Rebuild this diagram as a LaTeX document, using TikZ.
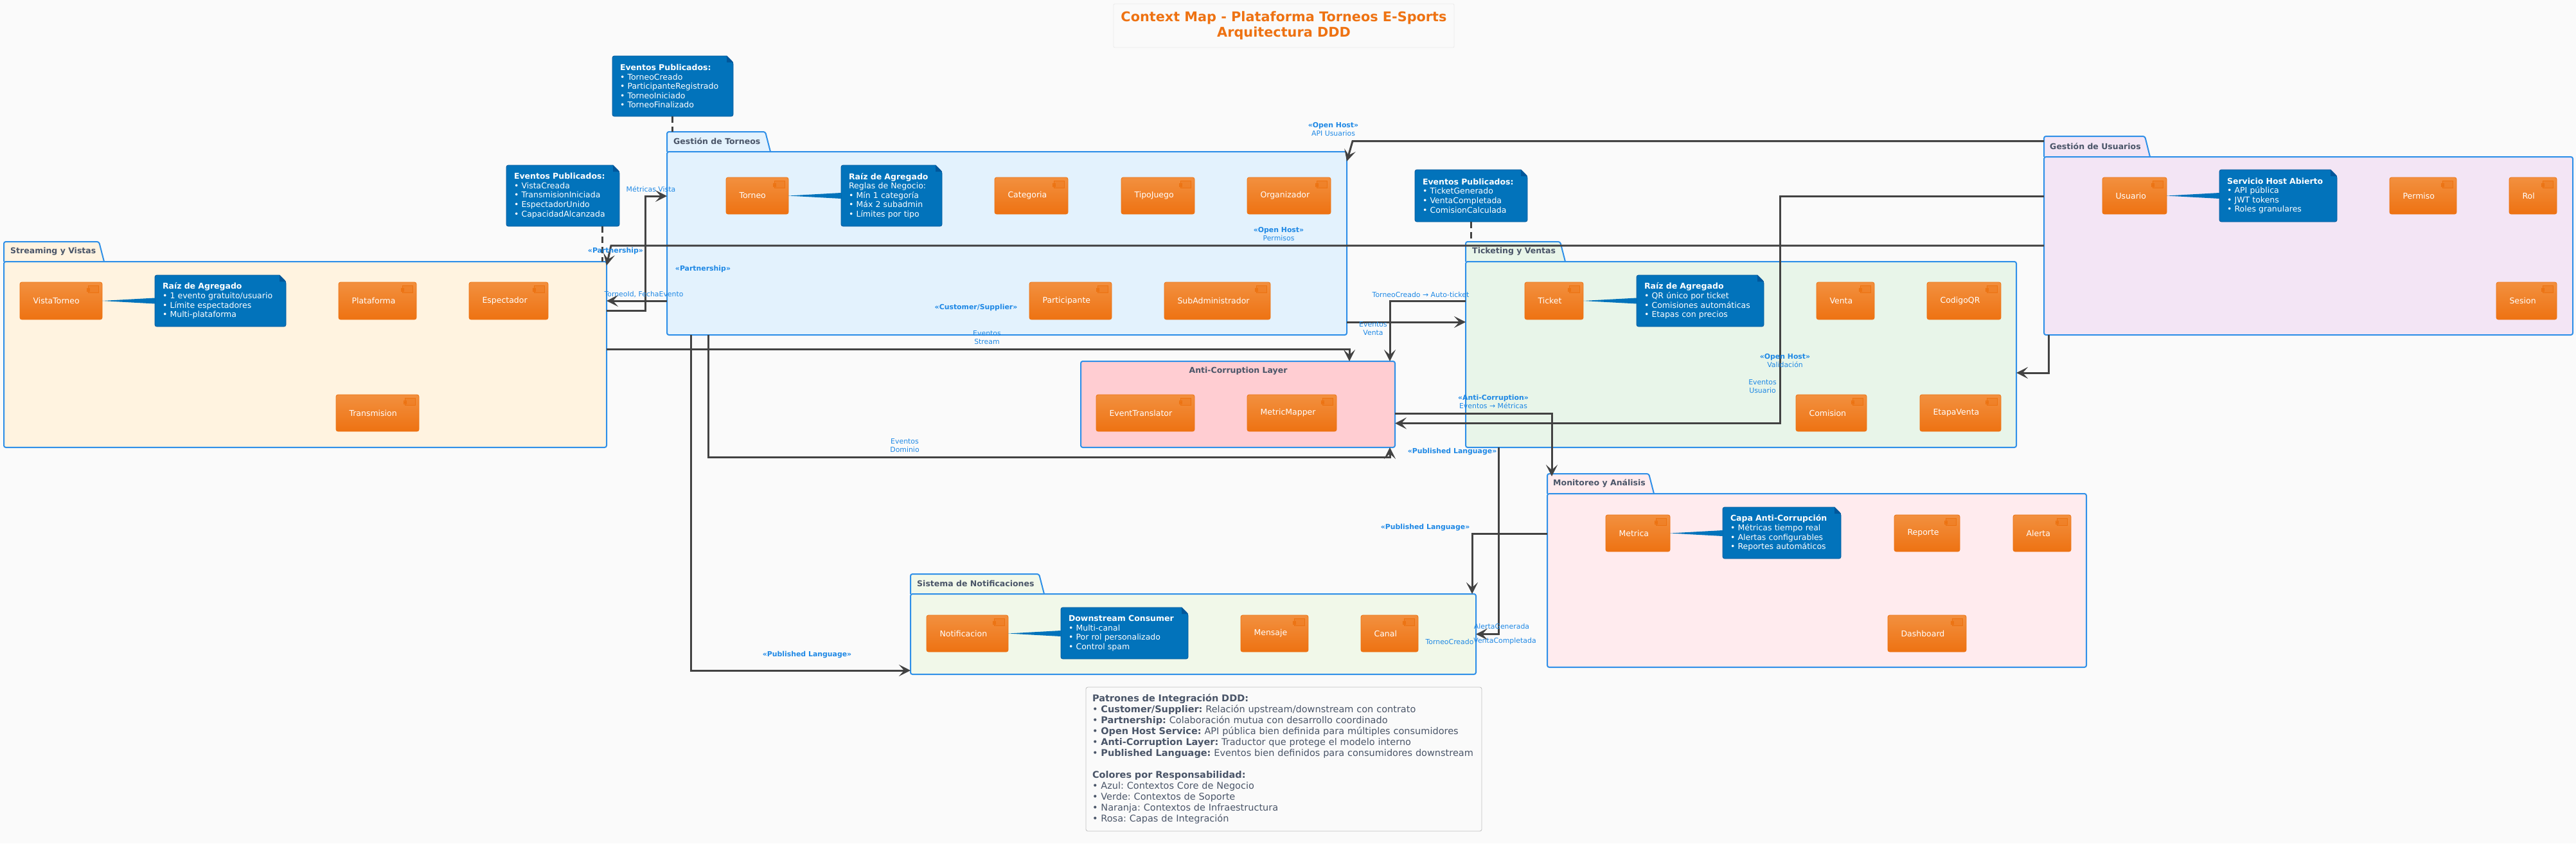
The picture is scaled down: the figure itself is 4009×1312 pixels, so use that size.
\documentclass[tikz,border=0pt]{standalone}
\usepackage{fontspec}
\setmainfont{DejaVu Sans}
\usetikzlibrary{arrows.meta,calc,fit}
\definecolor{pagebg}{HTML}{FAFAFA}
\definecolor{pkgblue}{HTML}{2E8FE8}
\definecolor{lblblue}{HTML}{1E88E5}
\definecolor{notefill}{HTML}{0273BB}
\definecolor{notedark}{HTML}{01579B}
\definecolor{compTop}{HTML}{F2903F}
\definecolor{compBot}{HTML}{EE7212}
\definecolor{compEdge}{HTML}{EC7211}
\definecolor{slatetxt}{HTML}{4A5568}
\definecolor{linegrey}{HTML}{424242}
\definecolor{fStream}{HTML}{FFF3E0}
\definecolor{fTorneo}{HTML}{E3F2FD}
\definecolor{fTicket}{HTML}{E8F5E9}
\definecolor{fUsuario}{HTML}{F3E5F5}
\definecolor{fAcl}{HTML}{FFCDD2}
\definecolor{fNotif}{HTML}{F1F8E9}
\definecolor{fMonitor}{HTML}{FFEBEE}
\frenchspacing
\tikzset{
  pkgline/.style={draw=pkgblue,line width=2pt,rounded corners=3pt},
  pkgbody/.style={pkgline,fit={#1},inner sep=0pt,outer sep=0pt},
  pkgtitle/.style={anchor=west,inner sep=0pt,text=slatetxt,font=\fontsize{12.5}{14.6}\selectfont\bfseries},
  compbox/.style={rectangle,draw=compEdge,line width=.8pt,rounded corners=3pt,top color=compTop,bottom color=compBot,
     inner xsep=20.5pt,inner ysep=0pt,outer sep=0pt,align=left,text=white,font=\fontsize{12.5}{14.6}\selectfont},
  compicon/.style={draw=compEdge,line width=.8pt,fill=compEdge,fill opacity=.35},
  notetext/.style={rectangle,inner xsep=12pt,inner ysep=0pt,outer sep=0pt,align=left,text=white,font=\fontsize{12.5}{14.6}\selectfont},
  notebody/.style={fill=notefill,draw=notedark,line width=.8pt},
  wedge/.style={fill=notefill},
  conn/.style={draw=linegrey,line width=3pt,line join=miter,-{Stealth[length=18pt,width=18pt,inset=8pt]}},
  noteconn/.style={draw=linegrey,line width=3pt,dash pattern=on 10pt off 6pt},
  lbl/.style={inner sep=0pt,align=center,text=lblblue,font=\fontsize{10.9}{12.4}\selectfont},
}
\newcommand{\comp}[6]{%
  \pgfmathsetmacro\mycw{#4-#2}\pgfmathsetmacro\mych{#5-#3}\pgfmathsetmacro\myctw{#4-#2-41}%
  \pgfmathsetmacro\mycx{(#2+#4)/2}\pgfmathsetmacro\mycy{(#3+#5)/2}%
  \node[compbox,minimum width=\mycw pt,minimum height=\mych pt,text width=\myctw pt] (#1) at (\mycx,\mycy) {\raisebox{-5pt}{#6}};
  \draw[compicon] ($(#1.north east)+(-22,5)$) rectangle ++(16,11.5);
  \draw[compicon] ($(#1.north east)+(-24,9)$) rectangle ++(4,2);
  \draw[compicon] ($(#1.north east)+(-24,12.5)$) rectangle ++(4,2);
}
\newcommand{\notebox}[6]{%
  \pgfmathsetmacro\mynw{#4-#2}\pgfmathsetmacro\mynh{#5-#3}\pgfmathsetmacro\myntw{#4-#2-24}%
  \pgfmathsetmacro\mynx{(#2+#4)/2}\pgfmathsetmacro\myny{(#3+#5)/2}\pgfmathsetmacro\mynf{#4-10}\pgfmathsetmacro\mynd{#3+10}%
  \draw[notebody,rounded corners=3pt] (\mynf,#3) -- (#2,#3) -- (#2,#5) -- (#4,#5) -- (#4,\mynd) [sharp corners] -- (\mynf,#3) -- cycle;
  \fill[notedark] (\mynf,#3) -- (#4,\mynd) -- (\mynf,\mynd) -- cycle;
  \node[notetext,minimum width=\mynw pt,minimum height=\mynh pt,text width=\myntw pt] (#1) at (\mynx,\myny) {#6};
}
\newcommand{\wedgeto}[2]{%
  \fill[wedge] (#1.east) -- ($(#2.west |- #1.east)+(0,-4.5)$) -- ($(#2.west |- #1.east)+(0,4.5)$) -- cycle;
}
\begin{document}
\begin{tikzpicture}[x=1pt,y=-1pt]
\useasboundingbox (0,0) rectangle (4009,1312);
\fill[pagebg] (0,0) rectangle (4009,1312);

% title
\node[draw=black!8,line width=.8pt,rounded corners=2pt,fill=pagebg,minimum width=530pt,minimum height=68pt,inner sep=0pt,align=center,
      text=compBot,font=\fontsize{20.8}{24}\selectfont\bfseries] (title) at (1998,40)
  {Context Map - Plataforma Torneos E-Sports\\Arquitectura DDD};

% packages
\draw[pkgline,fill=fStream] (6,407) -- (6,376) -- (154,376) -- (162,407);
\node[pkgbody={(6,407)(944,696)},fill=fStream] (streaming) {};
\node[pkgtitle] (streamingT) at (16,391) {Streaming y Vistas};

\draw[pkgline,fill=fTorneo] (1038,236) -- (1038,205) -- (1191,205) -- (1199,236);
\node[pkgbody={(1038,236)(2096,521)},fill=fTorneo] (torneos) {};
\node[pkgtitle] (torneosT) at (1048,220) {Gestión de Torneos};

\draw[pkgline,fill=fTicket] (2281,407) -- (2281,376) -- (2428,376) -- (2436,407);
\node[pkgbody={(2281,407)(3138,696)},fill=fTicket] (ticketing) {};
\node[pkgtitle] (ticketingT) at (2291,391) {Ticketing y Ventas};

\draw[pkgline,fill=fUsuario] (3181,244) -- (3181,212) -- (3338,212) -- (3346,244);
\node[pkgbody={(3181,244)(4004,521)},fill=fUsuario] (usuarios) {};
\node[pkgtitle] (usuariosT) at (3190,228) {Gestión de Usuarios};

\node[pkgbody={(1682,562)(2171,696)},fill=fAcl] (acl) {};
\node[pkgtitle,anchor=center] (aclT) at (1927,577) {Anti-Corruption Layer};

\draw[pkgline,fill=fMonitor] (2408,768) -- (2408,737) -- (2566,737) -- (2574,768);
\node[pkgbody={(2408,768)(3247,1038)},fill=fMonitor] (monitoreo) {};
\node[pkgtitle] (monitoreoT) at (2417,752) {Monitoreo y Análisis};

\draw[pkgline,fill=fNotif] (1417,924) -- (1417,893) -- (1617,893) -- (1625,924);
\node[pkgbody={(1417,924)(2297,1049)},fill=fNotif] (notif) {};
\node[pkgtitle] (notifT) at (1427,908) {Sistema de Notificaciones};

% notes
\notebox{nEvTorneos}{953}{87}{1141}{181}{\textbf{Eventos Publicados:}\\• TorneoCreado\\• ParticipanteRegistrado\\• TorneoIniciado\\• TorneoFinalizado}
\notebox{nEvStream}{788}{257}{964}{352}{\textbf{Eventos Publicados:}\\• VistaCreada\\• TransmisionIniciada\\• EspectadorUnido\\• CapacidadAlcanzada}
\notebox{nEvTicket}{2202}{264}{2377}{345}{\textbf{Eventos Publicados:}\\• TicketGenerado\\• VentaCompletada\\• ComisionCalculada}
\notebox{nRootTorneo}{1309}{257}{1466}{352}{\textbf{Raíz de Agregado}\\Reglas de Negocio:\\• Mín 1 categoría\\• Máx 2 subadmin\\• Límites por tipo}
\notebox{nRootStream}{241}{428}{445}{508}{\textbf{Raíz de Agregado}\\• 1 evento gratuito/usuario\\• Límite espectadores\\• Multi-plataforma}
\notebox{nRootTicket}{2547}{428}{2745}{508}{\textbf{Raíz de Agregado}\\• QR único por ticket\\• Comisiones automáticas\\• Etapas con precios}
\notebox{nHost}{3454}{264}{3637}{345}{\textbf{Servicio Host Abierto}\\• API pública\\• JWT tokens\\• Roles granulares}
\notebox{nDown}{1651}{945}{1849}{1025}{\textbf{Downstream Consumer}\\• Multi-canal\\• Por rol personalizado\\• Control spam}
\notebox{nAnti}{2681}{789}{2865}{869}{\textbf{Capa Anti-Corrupción}\\• Métricas tiempo real\\• Alertas configurables\\• Reportes automáticos}

% components
\comp{torneo}{1130}{276}{1227}{333}{Torneo}
\comp{categoria}{1548}{276}{1662}{333}{Categoria}
\comp{tipojuego}{1745}{276}{1859}{333}{TipoJuego}
\comp{organizador}{1941}{276}{2071}{333}{Organizador}
\comp{participante}{1602}{439}{1730}{497}{Participante}
\comp{subadmin}{1812}{439}{1977}{497}{SubAdministrador}
\comp{vistatorneo}{31}{439}{159}{497}{VistaTorneo}
\comp{plataforma}{527}{439}{648}{497}{Plataforma}
\comp{espectador}{730}{439}{853}{497}{Espectador}
\comp{transmision}{523}{614}{652}{671}{Transmision}
\comp{ticket}{2373}{439}{2464}{497}{Ticket}
\comp{venta}{2827}{439}{2917}{497}{Venta}
\comp{codigoqr}{2999}{439}{3114}{497}{CodigoQR}
\comp{comision}{2795}{614}{2905}{671}{Comision}
\comp{etapaventa}{2988}{614}{3114}{671}{EtapaVenta}
\comp{eventtranslator}{1706}{614}{1859}{671}{EventTranslator}
\comp{metricmapper}{1941}{614}{2080}{671}{MetricMapper}
\comp{usuario}{3272}{276}{3372}{333}{Usuario}
\comp{permiso}{3719}{276}{3823}{333}{Permiso}
\comp{rol}{3905}{276}{3979}{333}{Rol}
\comp{sesion}{3885}{439}{3979}{497}{Sesion}
\comp{notificacion}{1442}{957}{1569}{1014}{Notificacion}
\comp{mensaje}{1931}{957}{2036}{1014}{Mensaje}
\comp{canal}{2118}{957}{2207}{1014}{Canal}
\comp{metrica}{2499}{801}{2599}{858}{Metrica}
\comp{reporte}{2948}{801}{3050}{858}{Reporte}
\comp{alerta}{3133}{801}{3223}{858}{Alerta}
\comp{dashboard}{2938}{957}{3060}{1014}{Dashboard}

% note wedges
\wedgeto{torneo}{nRootTorneo}
\wedgeto{vistatorneo}{nRootStream}
\wedgeto{ticket}{nRootTicket}
\wedgeto{usuario}{nHost}
\wedgeto{notificacion}{nDown}
\wedgeto{metrica}{nAnti}

% note connectors
\coordinate (tabTorneos) at (1046,205);
\coordinate (tabTicket) at (2289,376);
\draw[noteconn] (nEvTorneos.south -| tabTorneos) -- (tabTorneos);
\draw[noteconn] (937,352 |- nEvStream.south) -- (937,352 |- streaming.north);
\draw[noteconn] (nEvTicket.south -| tabTicket) -- (tabTicket);

% connectors
\draw[conn] (usuarios.west |- 0,219.5) -- (2105,219.5) -- (torneos.east |- 0,251);
\draw[conn] (usuarios.west |- 0,382) -- (951,382) -- (streaming.east |- 0,413);
\draw[conn] (streaming.east |- 0,483) -- (1004,483) -- (1004,305) -- (torneos.west |- 0,305);
\draw[conn] (torneos.west |- 0,468) -- (streaming.east |- 0,468);
\draw[conn] (streaming.east |- 0,543) -- (2100,543) -- (2100,565 |- acl.north);
\draw[conn] (1102,0 |- torneos.south) -- (1102,711) -- (2163,711) -- (2163,0 |- acl.south);
\draw[conn] (1075,0 |- torneos.south) -- (1075,1043) -- (notif.west |- 0,1043);
\draw[conn] (torneos.east |- 0,501) -- (ticketing.west |- 0,501);
\draw[conn] (ticketing.west |- 0,468) -- (2163,468) -- (2163,0 |- acl.north);
\draw[conn] (acl.east |- 0,643) -- (2415,643) -- (2415,741);
\draw[conn] (usuarios.west |- 0,305) -- (2770,305) -- (2770,658.5) -- (acl.east |- 0,658.5);
\draw[conn] (3188,0 |- usuarios.south) -- (3188,580) -- (ticketing.east |- 0,580);
\draw[conn] (2332,0 |- ticketing.south) -- (2332,986.5) -- (notif.east |- 0,986.5);
\draw[conn] (monitoreo.west |- 0,830) -- (2291,830) -- (2291,0 |- notif.north);

% connector labels
\node[lbl] (l01) at (2075,201) {\textbf{«Open Host»}\\API Usuarios};
\node[lbl] (l02) at (1990,364) {\textbf{«Open Host»}\\Permisos};
\node[lbl] (l03) at (958,390) {\textbf{«Partnership»}};
\node[lbl] (l04) at (1094,418) {\textbf{«Partnership»}};
\node[lbl] (l05) at (1013,294) {Métricas Vista};
\node[lbl] (l06) at (1002,458) {TorneoId, FechaEvento};
\node[lbl] (l07) at (1519,478) {\textbf{«Customer/Supplier»}};
\node[lbl] (l08) at (1536,525) {Eventos\\Stream};
\node[lbl] (l09) at (1408,693) {Eventos\\Dominio};
\node[lbl] (l10) at (1256,1019) {\textbf{«Published Language»}};
\node[lbl] (l11) at (2137,511) {Eventos\\Venta};
\node[lbl] (l12) at (2211,458) {TorneoCreado → Auto-ticket};
\node[lbl] (l13) at (2324,625) {\textbf{«Anti-Corruption»}\\Eventos → Métricas};
\node[lbl] (l14) at (2260,703) {\textbf{«Published Language»}};
\node[lbl] (l15) at (2218,821) {\textbf{«Published Language»}};
\node[lbl] (l16) at (2778,561) {\textbf{«Open Host»}\\Validación};
\node[lbl] (l17) at (2743,601) {Eventos\\Usuario};
\node[lbl] (l18) at (2337,974) {AlertaGenerada};
\node[lbl] (l19) at (2342,997) {VentaCompletada};
\node[lbl] (l20) at (2256,998) {TorneoCreado};

% legend
\node[draw=black!25,line width=.8pt,rounded corners=3pt,fill=pagebg,minimum width=616pt,minimum height=224pt,text width=596pt,inner xsep=10pt,inner ysep=0pt,
      align=left,text=slatetxt,font=\fontsize{14.5}{17}\selectfont] (legend) at (1998,1181)
{\textbf{Patrones de Integración DDD:}\\
• \textbf{Customer/Supplier:} Relación upstream/downstream con contrato\\
• \textbf{Partnership:} Colaboración mutua con desarrollo coordinado\\
• \textbf{Open Host Service:} API pública bien definida para múltiples consumidores\\
• \textbf{Anti-Corruption Layer:} Traductor que protege el modelo interno\\
\mbox{• \textbf{Published Language:} Eventos bien definidos para consumidores downstream}\\
~\\
\textbf{Colores por Responsabilidad:}\\
• Azul: Contextos Core de Negocio\\
• Verde: Contextos de Soporte\\
• Naranja: Contextos de Infraestructura\\
• Rosa: Capas de Integración};
\end{tikzpicture}
\end{document}
